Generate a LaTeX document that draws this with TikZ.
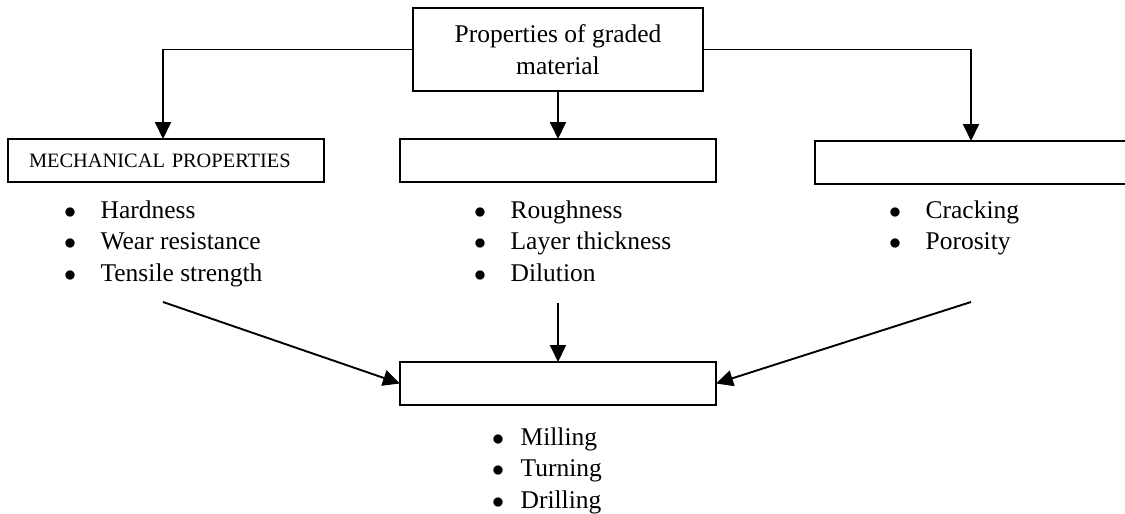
\documentclass[tikz,border=0pt]{standalone}
\usepackage{fontspec}
\setmainfont{Liberation Serif}
\usetikzlibrary{arrows.meta}
\begin{document}
\begin{tikzpicture}[x=0.5pt,y=-0.5pt,
  box/.style={draw, line width=0.9pt, inner sep=0pt, outer sep=0pt},
  arr/.style={draw, line width=0.95pt, -{Triangle[width=8pt,length=8.5pt]}},
  lst/.style={inner sep=0pt, anchor=base west, font=\fontsize{12.75}{15.75}\selectfont},
  ]
\clip (0,0) rectangle (1125,514);
\node[box, minimum width=145pt, minimum height=41.5pt, align=center,
      font=\fontsize{12.75}{16}\selectfont] (top) at (558,49.5) {Properties of graded\\material};
\node[box, minimum width=158pt, minimum height=21.5pt, text width=137pt, inner xsep=10.5pt,
      align=left, font=\fontsize{10.2}{12}\selectfont] (mech) at (166,160.5) {MECHANICAL PROPERTIES};
\node[box, minimum width=158pt, minimum height=21.5pt] (mid) at (558,160.5) {};
\node[box, minimum width=160pt, minimum height=21.5pt] (rgt) at (975,162.5) {};
\node[box, minimum width=158pt, minimum height=21.5pt] (bot) at (558,383.5) {};

\draw[arr] (top.west) -| ([xshift=-1.5pt]mech.north);
\draw[arr] (top.south) -- (mid.north);
\draw[arr] (top.east) -| ([xshift=-2pt]rgt.north);

\node[lst] (l1) at (63.6,218) {\begin{tabular}[t]{@{}l@{\hspace{12.3pt}}l@{}}$\bullet$ & Hardness\\ $\bullet$ & Wear resistance\\ $\bullet$ & Tensile strength\end{tabular}};
\node[lst] (l2) at (473.6,218) {\begin{tabular}[t]{@{}l@{\hspace{12.3pt}}l@{}}$\bullet$ & Roughness\\ $\bullet$ & Layer thickness\\ $\bullet$ & Dilution\end{tabular}};
\node[lst] (l3) at (888.6,218) {\begin{tabular}[t]{@{}l@{\hspace{12.3pt}}l@{}}$\bullet$ & Cracking\\ $\bullet$ & Porosity\end{tabular}};
\node[lst] (l4) at (491.6,445) {\begin{tabular}[t]{@{}l@{\hspace{8.3pt}}l@{}}$\bullet$ & Milling\\ $\bullet$ & Turning\\ $\bullet$ & Drilling\end{tabular}};

\coordinate (s1) at (163,302);
\coordinate (s2) at (558,303);
\coordinate (s3) at (971,302);
\draw[arr] (s1) -- (bot.west);
\draw[arr] (s2) -- (bot.north);
\draw[arr] (s3) -- (bot.east);
\end{tikzpicture}
\end{document}
